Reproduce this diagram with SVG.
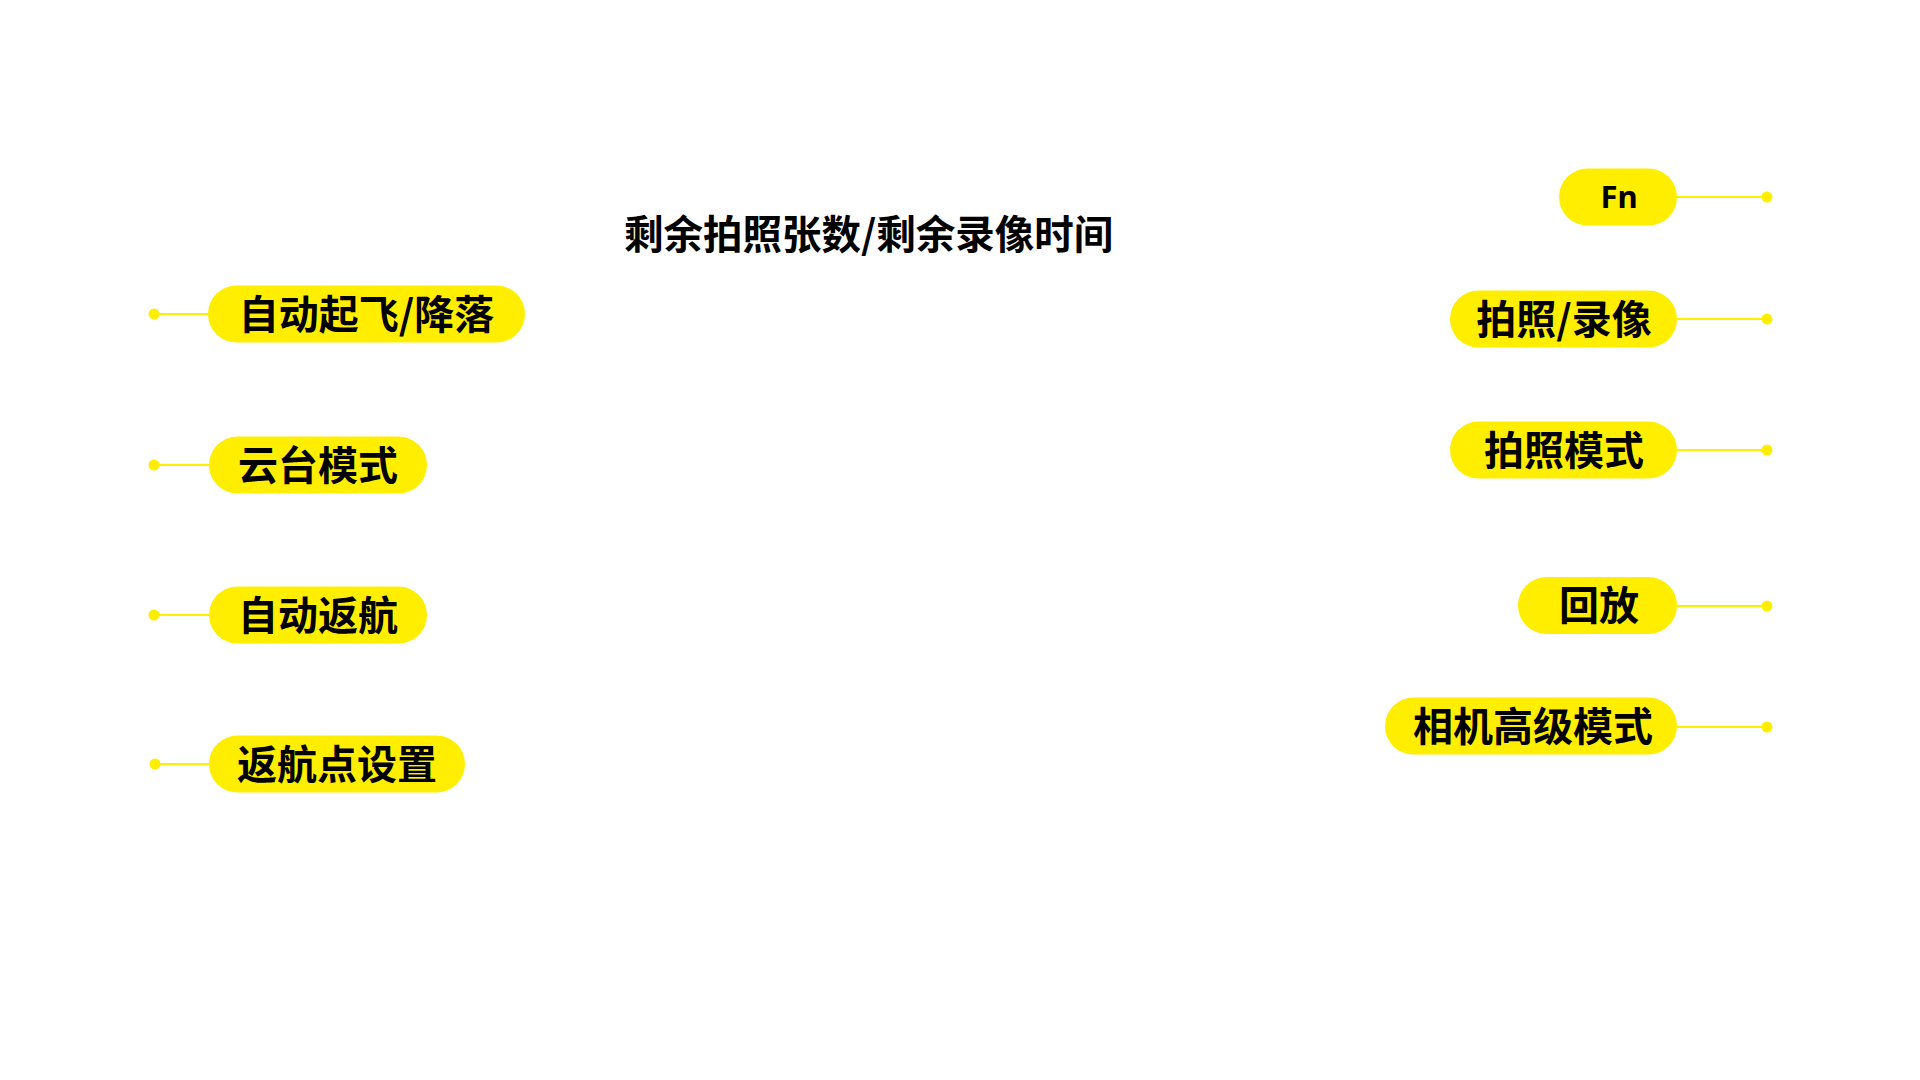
<svg xmlns="http://www.w3.org/2000/svg" width="1920" height="1080" viewBox="0 0 1920 1080">
<style>
.pill{fill:#FFEE00}
.lbl{font-family:"Noto Sans CJK SC","Noto Sans",sans-serif;font-weight:700;font-size:40px;fill:#000;text-anchor:middle}
.fn{font-family:"Noto Sans","Noto Sans CJK SC",sans-serif;font-weight:700;font-size:31px;fill:#000;text-anchor:middle}
.title{font-family:"Noto Sans CJK SC",sans-serif;font-weight:700;font-size:39.5px;fill:#000}
.ln{stroke:#FFEE00;stroke-width:2.2;fill:none}
.dot{fill:#FFEE00}
</style>
<rect width="1920" height="1080" fill="#fff"/>
<text id="title" class="title" x="624" y="249">剩余拍照张数/剩余录像时间</text>
<g id="connectors">
<line class="ln" x1="154" y1="314" x2="215" y2="314"/><circle class="dot" cx="154" cy="314" r="5.5"/>
<line class="ln" x1="154" y1="465" x2="215" y2="465"/><circle class="dot" cx="154" cy="465" r="5.5"/>
<line class="ln" x1="154" y1="615" x2="215" y2="615"/><circle class="dot" cx="154" cy="615" r="5.5"/>
<line class="ln" x1="155" y1="764" x2="215" y2="764"/><circle class="dot" cx="155" cy="764" r="5.5"/>
<line class="ln" x1="1670" y1="197" x2="1767" y2="197"/><circle class="dot" cx="1767" cy="197" r="5.5"/>
<line class="ln" x1="1670" y1="319" x2="1767" y2="319"/><circle class="dot" cx="1767" cy="319" r="5.5"/>
<line class="ln" x1="1670" y1="450" x2="1767" y2="450"/><circle class="dot" cx="1767" cy="450" r="5.5"/>
<line class="ln" x1="1670" y1="606" x2="1767" y2="606"/><circle class="dot" cx="1767" cy="606" r="5.5"/>
<line class="ln" x1="1670" y1="727" x2="1767" y2="727"/><circle class="dot" cx="1767" cy="727" r="5.5"/>
</g>
<g id="n-takeoff"><rect class="pill" x="208" y="285.5" width="317" height="57" rx="28.5"/><text class="lbl" x="366.5" y="329">自动起飞/降落</text></g>
<g id="n-gimbal"><rect class="pill" x="209" y="436.5" width="218" height="57" rx="28.5"/><text class="lbl" x="318" y="480">云台模式</text></g>
<g id="n-rth"><rect class="pill" x="209" y="586.5" width="218" height="57" rx="28.5"/><text class="lbl" x="318" y="630">自动返航</text></g>
<g id="n-home"><rect class="pill" x="209" y="735.5" width="256" height="57" rx="28.5"/><text class="lbl" x="337" y="779">返航点设置</text></g>
<g id="n-fn"><rect class="pill" x="1559" y="168.5" width="118" height="57" rx="28.5"/><text class="fn" x="1619" y="208">Fn</text></g>
<g id="n-shoot"><rect class="pill" x="1450" y="290.5" width="227" height="57" rx="28.5"/><text class="lbl" x="1564" y="334">拍照/录像</text></g>
<g id="n-photomode"><rect class="pill" x="1450" y="421.5" width="227" height="57" rx="28.5"/><text class="lbl" x="1564" y="465">拍照模式</text></g>
<g id="n-playback"><rect class="pill" x="1518" y="577" width="159" height="57" rx="28.5"/><text class="lbl" x="1599" y="620">回放</text></g>
<g id="n-advanced"><rect class="pill" x="1385" y="697.5" width="292" height="57" rx="28.5"/><text class="lbl" x="1533" y="741">相机高级模式</text></g>
</svg>
